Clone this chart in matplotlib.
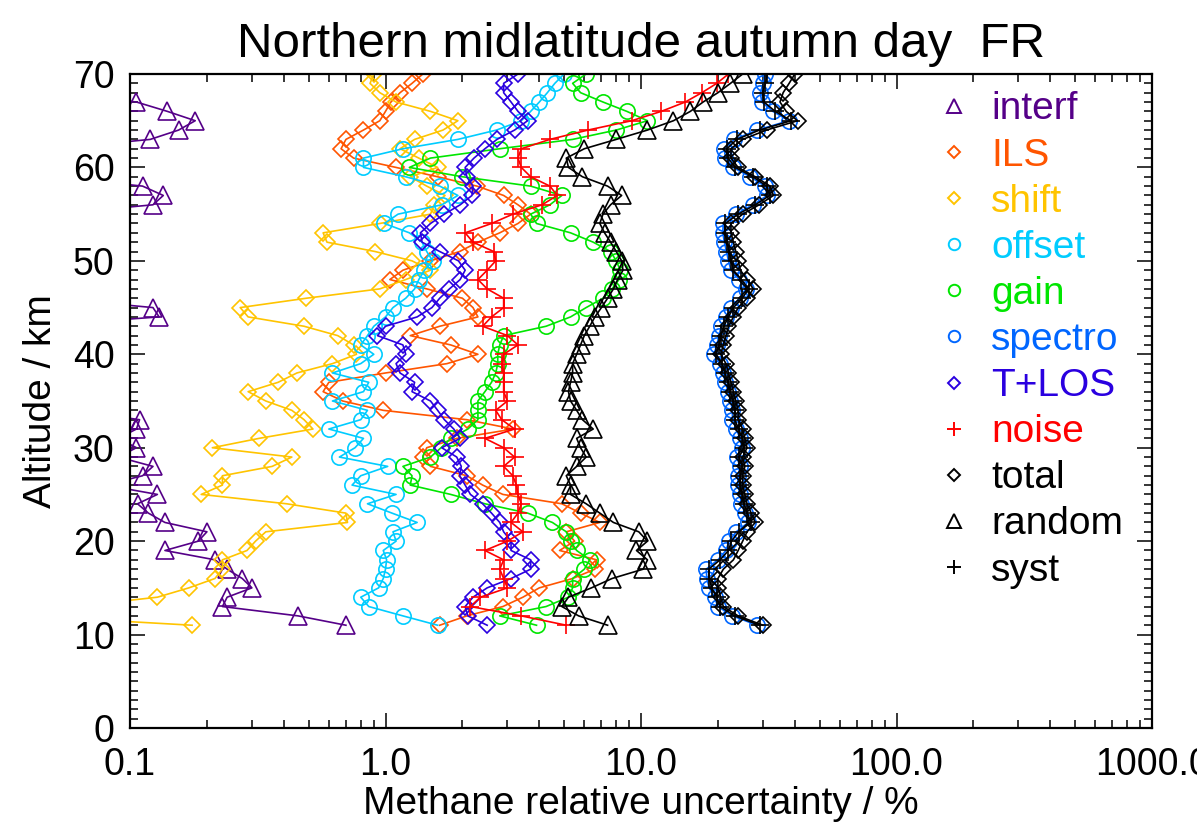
import matplotlib
matplotlib.use("Agg")
import matplotlib.pyplot as plt
from matplotlib.lines import Line2D
from matplotlib.ticker import FuncFormatter, LogLocator, MultipleLocator

plt.rcParams['font.family'] = ['Liberation Sans', 'DejaVu Sans']

# altitude grid (km)
alt = list(range(11, 71))

# relative uncertainties (%), one value per km from 11 to 70 km
interf = [0.70, 0.455, 0.23, 0.24, 0.30, 0.275, 0.24, 0.215, 0.137, 0.185,
          0.20, 0.137, 0.118, 0.107, 0.128, 0.08, 0.112, 0.123, 0.09, 0.106,
          0.09, 0.106, 0.109, 0.06, 0.03, 0.03, 0.03, 0.03, 0.03, 0.03,
          0.03, 0.03, 0.04, 0.13, 0.123, 0.05, 0.03, 0.03, 0.03, 0.03,
          0.03, 0.03, 0.03, 0.03, 0.05, 0.123, 0.135, 0.112, 0.05, 0.03,
          0.03, 0.05, 0.12, 0.155, 0.18, 0.14, 0.106, 0.05, 0.03, 0.03]
ils = [1.63, 2.08, 2.88, 3.45, 4.0, 5.4, 6.6, 6.7, 4.8, 5.5,
       5.1, 6.9, 5.8, 4.9, 2.88, 2.4, 2.08, 1.5, 1.4, 1.45,
       1.9, 3.16, 2.08, 0.98, 0.68, 0.57, 0.6, 1.0, 1.74, 2.3,
       1.8, 1.25, 1.63, 2.3, 2.2, 2.0, 1.45, 1.04, 1.17, 1.5,
       1.95, 2.3, 2.8, 3.3, 3.7, 3.3, 2.9, 2.28, 1.6, 1.1,
       0.75, 0.67, 0.7, 0.82, 0.95, 1.0, 1.05, 1.14, 1.27, 1.4]
shift = [0.175, 0.04, 0.06, 0.128, 0.17, 0.215, 0.23, 0.23, 0.287, 0.31,
         0.34, 0.71, 0.70, 0.41, 0.19, 0.23, 0.23, 0.36, 0.43, 0.21,
         0.32, 0.52, 0.48, 0.43, 0.34, 0.29, 0.38, 0.45, 0.62, 0.77,
         0.75, 0.65, 0.48, 0.29, 0.27, 0.49, 0.95, 1.2, 1.5, 1.27,
         0.91, 0.59, 0.57, 0.95, 1.5, 1.55, 1.71, 1.45, 1.25, 1.6,
         1.35, 1.14, 1.3, 1.68, 1.92, 1.5, 1.1, 0.95, 0.87, 0.9]
offset = [1.6, 1.17, 0.86, 0.8, 0.94, 0.98, 1.0, 1.01, 0.98, 1.1,
          1.07, 1.33, 1.06, 0.85, 1.1, 0.74, 0.8, 1.02, 0.66, 0.76,
          0.82, 0.6, 0.8, 0.85, 0.62, 0.82, 0.86, 0.62, 0.8, 0.9,
          0.8, 0.85, 0.9, 1.0, 1.07, 1.2, 1.3, 1.35, 1.42, 1.53,
          1.45, 1.39, 1.24, 0.99, 1.12, 1.66, 1.92, 1.63, 1.2, 0.82,
          0.82, 1.17, 1.92, 2.72, 3.4, 3.7, 4.0, 4.3, 4.6, 5.0]
gain = [3.9, 2.8, 4.25, 5.2, 5.4, 5.4, 6.0, 6.3, 5.6, 5.3,
        5.1, 4.5, 3.6, 2.45, 1.8, 1.25, 1.27, 1.17, 1.5, 1.65,
        1.8, 2.1, 2.3, 2.3, 2.3, 2.45, 2.6, 2.7, 2.75, 2.75,
        2.8, 2.9, 4.25, 5.3, 6.1, 7.1, 7.7, 8.2, 8.3, 8.0,
        7.6, 6.5, 5.3, 3.9, 3.7, 4.4, 4.9, 3.7, 2.0, 1.24,
        1.5, 2.8, 5.4, 8.0, 10.6, 8.8, 7.1, 5.8, 5.4, 6.1]
spectro = [28.5, 22.8, 20.0, 19.4, 18.5, 18.1, 18.0, 20.0, 21.5, 22.1,
           23.6, 26.3, 25.5, 24.7, 24.4, 23.9, 24.0, 24.4, 23.7, 24.8,
           24.4, 23.6, 22.8, 22.8, 22.4, 21.9, 21.4, 20.9, 20.4, 19.3,
           19.8, 20.2, 20.6, 21.6, 22.5, 24.4, 25.8, 24.2, 22.5, 22.0,
           21.6, 21.2, 20.9, 21.0, 23.5, 27.4, 31.2, 30.5, 26.8, 22.9,
           21.4, 21.2, 23.2, 28.5, 37.9, 32.8, 29.7, 29.3, 30.1, 30.6]
tlos = [2.5, 2.1, 2.05, 2.2, 2.5, 3.1, 3.7, 3.7, 3.1, 3.1,
        2.9, 2.8, 2.6, 2.4, 2.15, 2.05, 1.95, 1.98, 1.9, 1.66,
        1.96, 1.85, 1.7, 1.6, 1.5, 1.27, 1.3, 1.14, 1.1, 1.2,
        1.17, 0.93, 1.0, 1.33, 1.52, 1.63, 1.78, 1.96, 2.05, 1.93,
        1.63, 1.39, 1.37, 1.5, 1.7, 1.96, 2.18, 2.2, 2.08, 2.05,
        2.22, 2.45, 2.73, 3.2, 3.6, 3.3, 3.1, 2.9, 2.9, 3.3]
noise = [5.1, 3.4, 2.15, 2.35, 3.0, 2.9, 2.8, 2.9, 2.45, 3.0,
         3.45, 3.1, 3.3, 3.4, 3.3, 3.25, 3.15, 2.9, 3.2, 2.9,
         2.45, 3.2, 2.85, 2.7, 3.0, 2.9, 2.9, 2.9, 2.85, 2.9,
         3.3, 3.0, 2.4, 2.6, 2.9, 2.9, 2.5, 2.3, 2.5, 2.7,
         2.65, 2.2, 2.05, 2.6, 3.15, 4.1, 4.7, 4.4, 3.7, 3.4,
         3.3, 3.4, 4.4, 6.2, 9.2, 12.0, 14.9, 17.3, 19.8, 22.0]
total = [30.0, 24.0, 21.0, 20.5, 20.0, 20.0, 21.0, 23.0, 24.0, 25.0,
         26.0, 28.0, 27.0, 26.0, 25.5, 25.0, 25.0, 25.5, 25.0, 26.0,
         25.5, 25.0, 24.0, 24.0, 23.5, 23.0, 22.5, 22.0, 21.5, 20.5,
         21.0, 21.5, 22.0, 23.0, 24.0, 26.0, 27.5, 26.0, 24.5, 24.0,
         23.5, 23.0, 22.5, 22.5, 25.0, 29.0, 33.0, 32.0, 28.0, 24.0,
         22.5, 22.5, 25.0, 31.0, 41.0, 37.0, 35.0, 36.0, 38.0, 40.0]
random_err = [7.4, 5.7, 4.9, 5.2, 6.4, 7.7, 10.2, 10.6, 9.6, 10.6,
              9.8, 7.8, 6.9, 6.1, 5.3, 5.3, 5.1, 5.6, 6.1, 5.8,
              5.6, 6.5, 5.9, 5.6, 5.3, 5.2, 5.3, 5.4, 5.4, 5.6,
              5.8, 6.0, 6.3, 6.6, 7.0, 7.4, 7.8, 8.1, 8.5, 8.4,
              8.0, 7.6, 7.2, 6.9, 7.1, 7.6, 8.4, 7.4, 5.9, 5.2,
              5.1, 6.0, 8.0, 10.6, 13.4, 15.6, 17.5, 20.0, 22.4, 25.0]
syst = [29.1, 23.3, 20.4, 19.8, 18.9, 18.5, 18.4, 20.4, 22.0, 22.6,
        24.1, 26.9, 26.1, 25.3, 24.9, 24.4, 24.5, 24.9, 24.2, 25.3,
        24.9, 24.1, 23.3, 23.3, 22.9, 22.4, 21.9, 21.3, 20.8, 19.7,
        20.2, 20.6, 21.1, 22.0, 23.0, 24.9, 26.4, 24.7, 23.0, 22.5,
        22.1, 21.7, 21.3, 21.4, 24.0, 28.0, 31.9, 31.1, 27.4, 23.4,
        21.9, 21.7, 23.7, 29.1, 38.7, 33.5, 30.3, 29.9, 30.7, 31.2]

names = ["interf", "ILS", "shift", "offset", "gain", "spectro",
         "T+LOS", "noise", "total", "random", "syst"]
colors = ["#550088", "#FF5500", "#FFC400", "#00CCFF", "#00E600", "#0066FF",
          "#2A00E0", "#FF0000", "black", "black", "black"]
markers = ["^", "D", "D", "o", "o", "o", "D", "+", "D", "^", "+"]
msizes = [13, 8.5, 8.5, 11, 11, 11, 8.5, 13, 8.5, 13, 13]
data = [interf, ils, shift, offset, gain, spectro, tlos, noise,
        total, random_err, syst]

fig = plt.figure(figsize=(11.97, 8.30), dpi=100)
ax = fig.add_axes([130 / 1197, 102 / 830, 1022 / 1197, 654 / 830])

for vals, c, m, s in zip(data, colors, markers, msizes):
    ax.plot(vals, alt, color=c, lw=1.2, marker=m, ms=s, mfc="none",
            mec=c, mew=1.2)

ax.set_xscale("log")
ax.set_xlim(0.1, 1000)
ax.set_ylim(0, 70)
ax.xaxis.set_major_locator(LogLocator(base=10, numticks=10))
ax.xaxis.set_minor_locator(LogLocator(base=10, subs=range(2, 10), numticks=50))
ax.xaxis.set_major_formatter(FuncFormatter(lambda v, p: "%.1f" % v))
ax.yaxis.set_major_locator(MultipleLocator(10))
ax.yaxis.set_minor_locator(MultipleLocator(1))

ax.tick_params(which="both", direction="in", top=True, right=True,
               width=1.1, labelsize=27)
ax.tick_params(which="major", length=11)
ax.tick_params(which="minor", length=5.5)
ax.tick_params(axis="x", which="major", pad=14)
ax.tick_params(axis="y", which="major", pad=11)
for sp in ax.spines.values():
    sp.set_linewidth(1.6)

ax.set_xlabel("Methane relative uncertainty / %", fontsize=28, labelpad=2)
ax.set_ylabel("Altitude / km", fontsize=28, labelpad=10)
ax.set_title("Northern midlatitude autumn day  FR", fontsize=35.5, pad=12)

handles = [Line2D([], [], ls="none", marker=m, ms=s * 0.75, mfc="none",
                  mec=c, mew=1.4)
           for c, m, s in zip(colors, markers, msizes)]
ax.legend(handles, names, loc="upper left", bbox_to_anchor=(0.772, 1.003),
          frameon=False, fontsize=28, labelcolor=colors, borderpad=0,
          handlelength=0.8, handletextpad=0.55, labelspacing=0.26)

fig.savefig("out.png", dpi=100)
